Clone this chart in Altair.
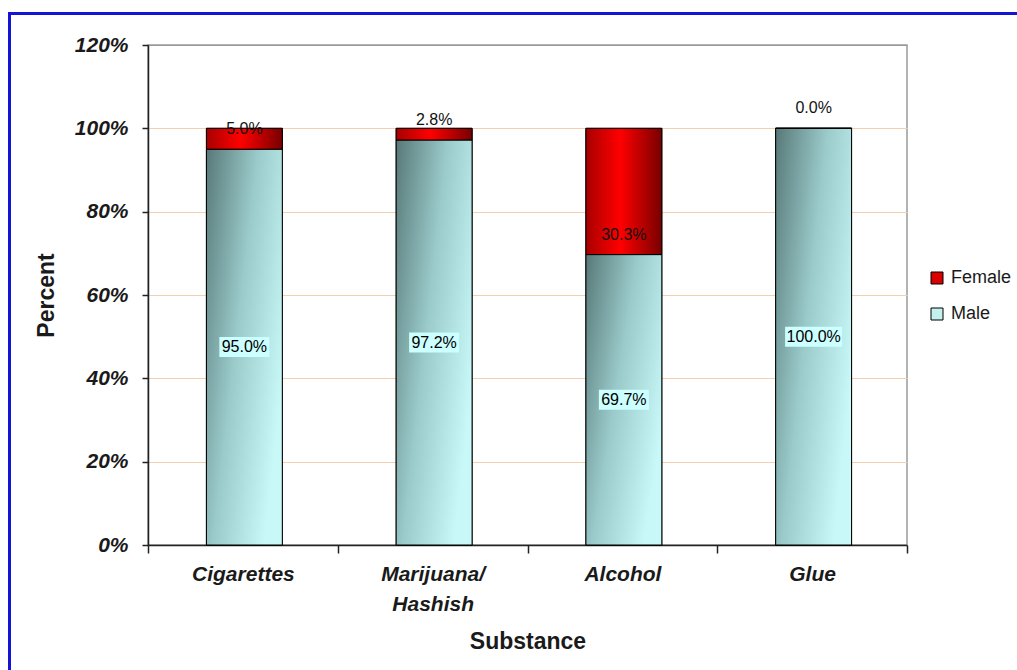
import altair as alt
import pandas as pd

# Share of users by sex for each substance (percent)
substances = ["Cigarettes", "Marijuana/ Hashish", "Alcohol", "Glue"]
male_pct = [95.0, 97.2, 69.7, 100.0]
female_pct = [5.0, 2.8, 30.3, 0.0]
sexes = ["Female", "Male"]
legend_colors = ["#D80000", "#C4F0F0"]
y_ticks = [0, 20, 40, 60, 80, 100, 120]

rows = []
for name, m, f in zip(substances, male_pct, female_pct):
    rows.append({"substance": name, "sex": "Male", "pct": m, "rank": 0})
    rows.append({"substance": name, "sex": "Female", "pct": f, "rank": 1})
df = pd.DataFrame(rows)

FONT = "Liberation Sans"
INK = "#1a1a1a"
SHIFT = 1.5  # bars sit a touch right of the category centre

male_fill = {
    "gradient": "linear", "x1": 0, "y1": 0, "x2": 1, "y2": 0.6,
    "stops": [
        {"offset": 0, "color": "#587878"},
        {"offset": 0.5, "color": "#9ACACA"},
        {"offset": 1, "color": "#C8F8F8"},
    ],
}
female_fill = {
    "gradient": "linear", "x1": 0, "y1": 0, "x2": 1, "y2": 0,
    "stops": [
        {"offset": 0, "color": "#A80000"},
        {"offset": 0.45, "color": "#FF0000"},
        {"offset": 1, "color": "#780000"},
    ],
}

x_enc = alt.X(
    "substance:N",
    sort=substances,
    scale=alt.Scale(paddingInner=0, paddingOuter=0),
    title="Substance",
    axis=alt.Axis(
        tickBand="extent", tickSize=8, tickWidth=1.5, tickColor="#222222",
        domainColor="#222222", domainWidth=1.5,
        labelFont=FONT, labelFontSize=21, labelFontWeight="bold",
        labelFontStyle="italic", labelColor=INK, labelAngle=0,
        labelPadding=10, labelLineHeight=30,
        labelExpr="split(datum.label, ' ')",
        titleFont=FONT, titleFontSize=23, titleFontWeight="bold",
        titleColor=INK, titlePadding=16, grid=False,
    ),
)


def y_enc(field):
    return alt.Y(
        field,
        scale=alt.Scale(domain=[0, 120]),
        title="Percent",
        axis=alt.Axis(
            values=y_ticks, tickSize=6, tickWidth=1.5, tickColor="#222222",
            domainColor="#222222", domainWidth=1.5,
            labelFont=FONT, labelFontSize=21, labelFontWeight="bold",
            labelFontStyle="italic", labelColor=INK, labelPadding=14,
            labelExpr="datum.value + '%'",
            titleFont=FONT, titleFontSize=23, titleFontWeight="bold",
            titleColor=INK, titlePadding=16,
            grid=True, gridWidth=1,
            gridColor={"condition": {"test": "datum.value >= 120", "value": "#9a9a9a"},
                       "value": "#F2CFAE"},
        ),
    )


base = alt.Chart(df).transform_stack(
    stack="pct", groupby=["substance"], as_=["y0", "y1"],
    sort=[alt.SortField("rank", order="ascending")],
).transform_calculate(
    ymid="(datum.y0 + datum.y1) / 2",
    lo="(datum.y0 + datum.y1) / 2 - 2.4",
    hi="(datum.y0 + datum.y1) / 2 + 2.4",
    label="format(datum.pct, '.1f') + '%'",
)

bar_width = alt.RelativeBandSize(0.4)

# flat-coloured bars underneath carry the legend
legend_bars = base.mark_bar(
    width=bar_width, stroke="black", strokeWidth=1, xOffset=SHIFT
).encode(
    x=x_enc, y=y_enc("y1:Q"), y2="y0:Q",
    color=alt.Color(
        "sex:N",
        scale=alt.Scale(domain=sexes, range=legend_colors),
        legend=alt.Legend(
            orient="none", legendX=780, legendY=224, title=None,
            symbolType="square", symbolSize=144,
            symbolStrokeColor="black", symbolStrokeWidth=1,
            labelFont=FONT, labelFontSize=18, labelColor=INK,
            labelOffset=5, rowPadding=18, padding=0,
        ),
    ),
)

male_bars = base.transform_filter("datum.sex == 'Male'").mark_bar(
    width=bar_width, fill=male_fill, stroke="black", strokeWidth=1, xOffset=SHIFT
).encode(x=x_enc, y=y_enc("y1:Q"), y2="y0:Q")

female_bars = base.transform_filter("datum.sex == 'Female'").mark_bar(
    width=bar_width, fill=female_fill, stroke="black", strokeWidth=1, xOffset=SHIFT
).encode(x=x_enc, y=y_enc("y1:Q"), y2="y0:Q")

male_only = base.transform_filter("datum.sex == 'Male'")

box_short = male_only.transform_filter("length(datum.label) <= 5").mark_bar(
    width=50, color="#CCFFFF", xOffset=SHIFT
).encode(x=x_enc, y=y_enc("lo:Q"), y2="hi:Q")

box_long = male_only.transform_filter("length(datum.label) > 5").mark_bar(
    width=57, color="#CCFFFF", xOffset=SHIFT
).encode(x=x_enc, y=y_enc("lo:Q"), y2="hi:Q")

male_text = male_only.mark_text(
    font=FONT, fontSize=16, color="black", baseline="middle", dx=SHIFT
).encode(x=x_enc, y=y_enc("ymid:Q"), text="label:N")

female_text = base.transform_filter("datum.sex == 'Female'").mark_text(
    font=FONT, fontSize=16, color="#111111", baseline="middle", dy=-20, dx=SHIFT
).encode(x=x_enc, y=y_enc("y0:Q"), text="label:N")

frame = alt.Chart(alt.Data(values=[{}])).mark_rect(
    filled=False, stroke="#1414D8", strokeWidth=3
).encode(
    x=alt.value(-138.5), x2=alt.value(1000),
    y=alt.value(-31.5), y2=alt.value(700),
)

chart = alt.layer(
    legend_bars, male_bars, female_bars, box_short, box_long,
    male_text, female_text, frame,
).properties(
    width=759, height=500,
    autosize=alt.AutoSizeParams(type="none"),
    padding={"left": 148, "top": 45, "right": 110, "bottom": 125},
    background="white",
).configure_view(stroke="#9a9a9a", strokeWidth=1.5)

chart.save("out.html", embed_options={"renderer": "svg", "actions": False})
